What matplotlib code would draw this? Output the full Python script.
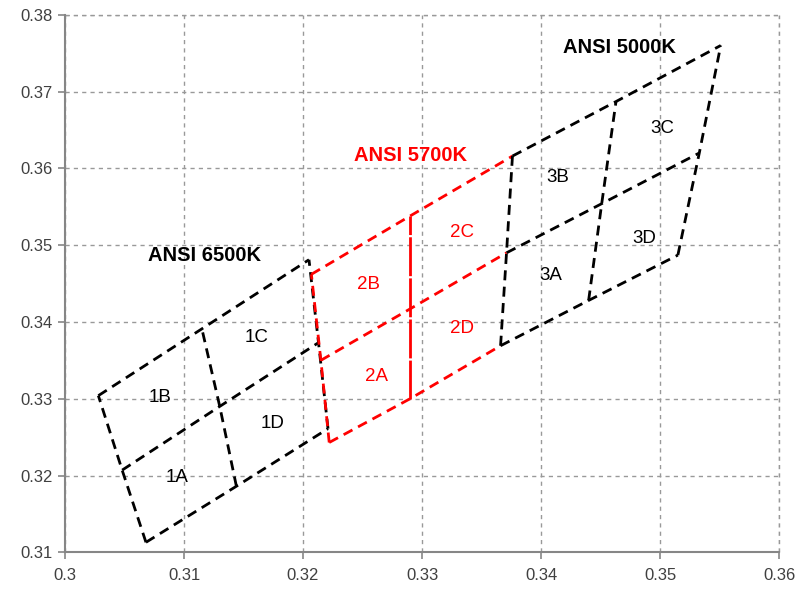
import matplotlib
matplotlib.use("Agg")
import matplotlib.pyplot as plt

plt.rcParams['font.family'] = ['Liberation Sans', 'DejaVu Sans']

# ANSI C78.377 quadrangles as 3x3 grids of chromaticity points.
# rows: lower edge, middle line, upper edge; columns: left, centre, right
q6500_x = [[0.3068, 0.3144, 0.3221], [0.3048, 0.3130, 0.3213], [0.3028, 0.3115, 0.3205]]
q6500_y = [[0.3113, 0.3186, 0.3261], [0.3207, 0.3290, 0.3373], [0.3304, 0.3391, 0.3481]]
q5700_x = [[0.3222, 0.3290, 0.3366], [0.3215, 0.3290, 0.3371], [0.3207, 0.3290, 0.3376]]
q5700_y = [[0.3243, 0.3300, 0.3369], [0.3350, 0.3417, 0.3490], [0.3462, 0.3538, 0.3616]]
q5000_x = [[0.3366, 0.3440, 0.3515], [0.3371, 0.3451, 0.3533], [0.3376, 0.3463, 0.3551]]
q5000_y = [[0.3369, 0.3428, 0.3487], [0.3490, 0.3554, 0.3620], [0.3616, 0.3687, 0.3760]]

# bin names and where their labels sit
bin_names = ['1A', '1B', '1C', '1D', '2A', '2B', '2C', '2D', '3A', '3B', '3C', '3D']
bin_label_x = [0.3094, 0.3080, 0.3161, 0.3174, 0.3262, 0.3255, 0.3334, 0.3334,
               0.3408, 0.3414, 0.3502, 0.3487]
bin_label_y = [0.3197, 0.3302, 0.3380, 0.3268, 0.3329, 0.3449, 0.3516, 0.3391,
               0.3460, 0.3588, 0.3652, 0.3508]

group_titles = ['ANSI 6500K', 'ANSI 5700K', 'ANSI 5000K']
group_title_x = [0.3117, 0.3290, 0.3466]
group_title_y = [0.3486, 0.3617, 0.3758]

x_ticks = [0.30, 0.31, 0.32, 0.33, 0.34, 0.35, 0.36]
x_tick_labels = ['0.3', '0.31', '0.32', '0.33', '0.34', '0.35', '0.36']
y_ticks = [0.31, 0.32, 0.33, 0.34, 0.35, 0.36, 0.37, 0.38]
y_tick_labels = ['0.31', '0.32', '0.33', '0.34', '0.35', '0.36', '0.37', '0.38']

RED = '#ff0000'
DASH = dict(lw=2.0, dashes=(3.6, 2.3), dash_capstyle='butt', zorder=3)


def draw_quad(ax, gx, gy, color, skip_right=False, solid_mid_col=False):
    # lines running along the locus (rows)
    for r in range(3):
        ax.plot(gx[r], gy[r], color=color, **DASH)
    # lines across the locus (columns)
    for c in range(3):
        if skip_right and c == 2:
            continue
        xs = [gx[r][c] for r in range(3)]
        ys = [gy[r][c] for r in range(3)]
        if solid_mid_col and c == 1:
            ax.plot(xs, ys, color=color, lw=2.0, dashes=(14, 0.8), zorder=3)
        else:
            ax.plot(xs, ys, color=color, **DASH)


fig = plt.figure(figsize=(7.99, 5.91), dpi=100)
ax = fig.add_axes([0.0814, 0.0655, 0.8936, 0.9095])

draw_quad(ax, q6500_x, q6500_y, 'black')
draw_quad(ax, q5700_x, q5700_y, RED, skip_right=True, solid_mid_col=True)
draw_quad(ax, q5000_x, q5000_y, 'black')

for name, lx, ly in zip(bin_names, bin_label_x, bin_label_y):
    color = RED if name.startswith('2') else 'black'
    ax.text(lx, ly, name, color=color, fontsize=13.5, ha='center', va='center', zorder=4)

for title, tx, ty in zip(group_titles, group_title_x, group_title_y):
    color = RED if '5700' in title else 'black'
    ax.text(tx, ty, title, color=color, fontsize=14.5, fontweight='bold',
            ha='center', va='center', zorder=4)

ax.set_xlim(0.30, 0.36)
ax.set_ylim(0.31, 0.38)
ax.set_xticks(x_ticks)
ax.set_xticklabels(x_tick_labels)
ax.set_yticks(y_ticks)
ax.set_yticklabels(y_tick_labels)
ax.tick_params(axis='both', labelsize=12, colors='#404040', length=5, width=1.2, direction='out')
ax.tick_params(axis='x', color='#868686', pad=6)
ax.tick_params(axis='y', color='#868686', pad=4)

ax.grid(True, color='#999999', linestyle=(0, (3, 3)), linewidth=1.0, zorder=0)
ax.set_axisbelow(True)
for side in ['top', 'right']:
    ax.spines[side].set_visible(False)
for side in ['left', 'bottom']:
    ax.spines[side].set_color('#868686')
    ax.spines[side].set_linewidth(1.5)

# dashed frame at top and right, like the gridlines in the reference
ax.axhline(0.38, color='#999999', linestyle=(0, (3, 3)), linewidth=1.0, clip_on=False, zorder=0)
ax.axvline(0.36, color='#999999', linestyle=(0, (3, 3)), linewidth=1.0, clip_on=False, zorder=0)

fig.savefig('out.png', dpi=100)
